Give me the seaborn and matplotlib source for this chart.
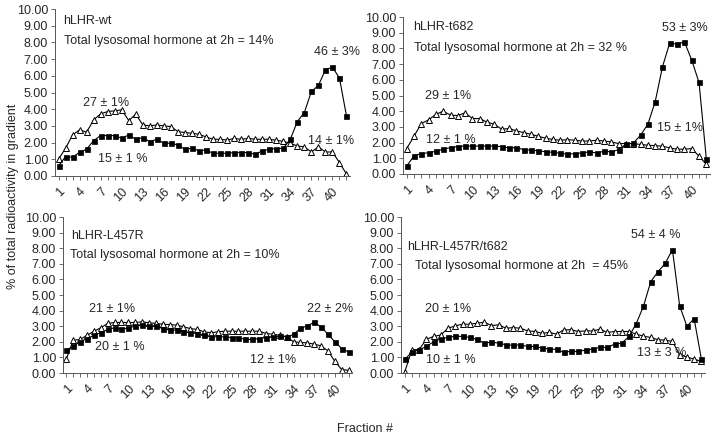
import numpy as np
import pandas as pd
import matplotlib
matplotlib.use('agg')
import matplotlib.pyplot as plt
from matplotlib.ticker import FixedLocator, FormatStrFormatter
import seaborn as sns

sns.set_style("white")
plt.rcParams['font.family'] = ['Liberation Sans', 'DejaVu Sans']

fractions = list(range(1, 43))
tick_fracs = list(range(1, 41, 3))

# filled squares / open triangles, % of total radioactivity per fraction
wt_sq = [0.60, 1.16, 1.12, 1.42, 1.60, 2.12, 2.42, 2.42, 2.42, 2.26,
         2.46, 2.20, 2.30, 2.06, 2.20, 1.96, 1.96, 1.86, 1.60, 1.66,
         1.52, 1.55, 1.36, 1.36, 1.36, 1.40, 1.40, 1.40, 1.30, 1.50,
         1.60, 1.64, 1.66, 2.20, 3.26, 3.80, 5.06, 5.42, 6.36, 6.52,
         5.86, 3.60]
wt_tri = [1.00, 1.66, 2.46, 2.76, 2.62, 3.36, 3.72, 3.86, 3.90, 3.96,
          3.32, 3.70, 3.06, 3.00, 3.06, 3.00, 2.96, 2.66, 2.60, 2.56,
          2.50, 2.34, 2.20, 2.20, 2.15, 2.25, 2.20, 2.25, 2.20, 2.20,
          2.20, 2.14, 2.08, 1.96, 1.80, 1.74, 1.44, 1.74, 1.44, 1.44,
          0.80, 0.12]

t682_sq = [0.50, 1.15, 1.30, 1.35, 1.45, 1.58, 1.68, 1.75, 1.78, 1.78,
           1.78, 1.78, 1.78, 1.74, 1.66, 1.68, 1.55, 1.52, 1.48, 1.42,
           1.38, 1.32, 1.26, 1.30, 1.34, 1.41, 1.34, 1.45, 1.41, 1.55,
           1.90, 1.96, 2.47, 3.17, 4.60, 6.83, 8.36, 8.26, 8.42, 7.25,
           5.83, 0.95]
t682_tri = [1.62, 2.40, 3.21, 3.45, 3.80, 4.00, 3.75, 3.72, 3.90, 3.53,
            3.53, 3.30, 3.17, 2.85, 2.90, 2.75, 2.64, 2.53, 2.40, 2.28,
            2.20, 2.15, 2.19, 2.15, 2.10, 2.10, 2.15, 2.10, 2.04, 1.94,
            1.94, 1.94, 1.88, 1.83, 1.81, 1.77, 1.66, 1.58, 1.58, 1.62,
            1.13, 0.62]

l457r_sq = [1.46, 1.72, 2.00, 2.21, 2.42, 2.58, 2.79, 2.90, 2.79, 2.90,
            3.00, 3.07, 3.00, 3.00, 2.85, 2.75, 2.75, 2.64, 2.58, 2.53,
            2.42, 2.32, 2.32, 2.32, 2.27, 2.27, 2.15, 2.15, 2.21, 2.27,
            2.32, 2.36, 2.32, 2.47, 2.86, 3.03, 3.24, 2.96, 2.49, 2.00,
            1.57, 1.35]
l457r_tri = [0.92, 2.10, 2.15, 2.42, 2.68, 2.90, 3.18, 3.24, 3.24, 3.24,
             3.24, 3.28, 3.22, 3.18, 3.13, 3.10, 3.07, 2.96, 2.85, 2.79,
             2.64, 2.58, 2.64, 2.68, 2.68, 2.68, 2.68, 2.68, 2.68, 2.53,
             2.49, 2.42, 2.32, 2.00, 1.96, 1.93, 1.85, 1.74, 1.42, 0.75,
             0.22, 0.17]

dbl_sq = [0.87, 1.33, 1.49, 1.70, 2.00, 2.19, 2.28, 2.36, 2.34, 2.28,
          2.15, 1.91, 1.98, 1.91, 1.81, 1.77, 1.81, 1.70, 1.70, 1.60,
          1.53, 1.51, 1.32, 1.40, 1.38, 1.47, 1.53, 1.65, 1.64, 1.85,
          1.91, 2.34, 3.17, 4.28, 5.85, 6.49, 7.02, 7.91, 4.30, 3.00,
          3.48, 0.89]
dbl_tri = [0.04, 1.49, 1.50, 2.16, 2.34, 2.44, 2.87, 3.02, 3.13, 3.13,
           3.19, 3.26, 3.04, 3.09, 2.87, 2.91, 2.87, 2.70, 2.66, 2.55,
           2.60, 2.49, 2.77, 2.77, 2.66, 2.70, 2.70, 2.81, 2.60, 2.66,
           2.66, 2.66, 2.49, 2.36, 2.28, 2.13, 2.11, 2.02, 1.17, 1.02,
           0.89, 0.74]

titles = ["hLHR-wt", "hLHR-t682", "hLHR-L457R", "hLHR-L457R/t682"]
subtitles = ["Total lysosomal hormone at 2h = 14%",
             "Total lysosomal hormone at 2h = 32 %",
             "Total lysosomal hormone at 2h = 10%",
             "Total lysosomal hormone at 2h  = 45%"]
# peak labels: (text, fraction, value)
peak_labels = [
    [("27 ± 1%", 7.8, 4.4), ("15 ± 1 %", 10.2, 1.0),
     ("46 ± 3%", 40.6, 7.4), ("14 ± 1%", 39.8, 2.12)],
    [("29 ± 1%", 6.6, 4.98), ("12 ± 1 %", 7.0, 2.15),
     ("53 ± 3%", 39.1, 9.28), ("15 ± 1%", 38.4, 2.96)],
    [("21 ± 1%", 7.6, 4.1), ("20 ± 1 %", 8.7, 1.67),
     ("22 ± 2%", 39.3, 4.1), ("12 ± 1%", 31.1, 0.86)],
    [("20 ± 1%", 7.0, 4.1), ("10 ± 1 %", 7.35, 0.85),
     ("54 ± 4 %", 35.75, 8.87), ("13 ± 3 %", 36.5, 1.28)],
]
title_pos = [((1.7, 9.26), (1.8, 8.06)),
             ((1.9, 9.38), (2.05, 8.04)),
             ((1.73, 8.8), (1.49, 7.58)),
             ((1.33, 8.08), (2.48, 6.85))]

series = [(wt_sq, wt_tri), (t682_sq, t682_tri),
          (l457r_sq, l457r_tri), (dbl_sq, dbl_tri)]

W, H = 714, 438
# axes boxes in pixels: left, top, right, bottom
boxes = [(55, 9, 350, 176), (403, 17, 710, 174),
         (63, 217, 352, 373), (401, 217, 705, 373)]

fig = plt.figure(figsize=(W / 100, H / 100), dpi=100)

for i in range(4):
    l, t, r, b = boxes[i]
    ax = fig.add_axes([l / W, 1 - b / H, (r - l) / W, (b - t) / H])
    sq, tri = series[i]
    df = pd.DataFrame({"fraction": fractions, "sq": sq, "tri": tri})
    sns.lineplot(data=df, x="fraction", y="tri", ax=ax, color="black",
                 linewidth=0.8, marker="^", markersize=5,
                 markerfacecolor="white", markeredgecolor="black",
                 markeredgewidth=0.7)
    sns.lineplot(data=df, x="fraction", y="sq", ax=ax, color="black",
                 linewidth=0.8, marker="s", markersize=3.6,
                 markerfacecolor="black", markeredgecolor="black",
                 markeredgewidth=0.5)
    ax.set_xlim(0.5, 42.5)
    ax.set_ylim(0, 10)
    ax.set_yticks(range(0, 11))
    ax.yaxis.set_major_formatter(FormatStrFormatter('%.2f'))
    ax.xaxis.set_major_locator(FixedLocator(tick_fracs))
    ax.xaxis.set_minor_locator(FixedLocator(fractions))
    ax.set_xticklabels([str(v) for v in tick_fracs], rotation=45,
                       ha="right", va="top", rotation_mode="anchor")
    ax.tick_params(axis="both", which="both", direction="out", length=3,
                   width=0.6, color="#555555", labelsize=9, pad=2,
                   bottom=True, left=True)
    ax.tick_params(axis="x", which="major", pad=4)
    ax.set_xlabel("")
    ax.set_ylabel("")
    for s in ["top", "right"]:
        ax.spines[s].set_visible(False)
    for s in ["left", "bottom"]:
        ax.spines[s].set_color("#555555")
        ax.spines[s].set_linewidth(0.7)
    (tx, ty), (sx, sy) = title_pos[i]
    ax.text(tx, ty, titles[i], fontsize=9, ha="left", va="center")
    ax.text(sx, sy, subtitles[i], fontsize=9, ha="left", va="center")
    for txt, fx, fy in peak_labels[i]:
        ax.text(fx, fy, txt, fontsize=9, ha="center", va="center")

fig.text(13 / W, 1 - 196 / H, "% of total radioactivity in gradient",
         rotation=90, ha="center", va="center", fontsize=9)
fig.text(365 / W, 1 - 429 / H, "Fraction #", ha="center", va="center",
         fontsize=9)

fig.savefig("out.png", dpi=100, facecolor="white")
